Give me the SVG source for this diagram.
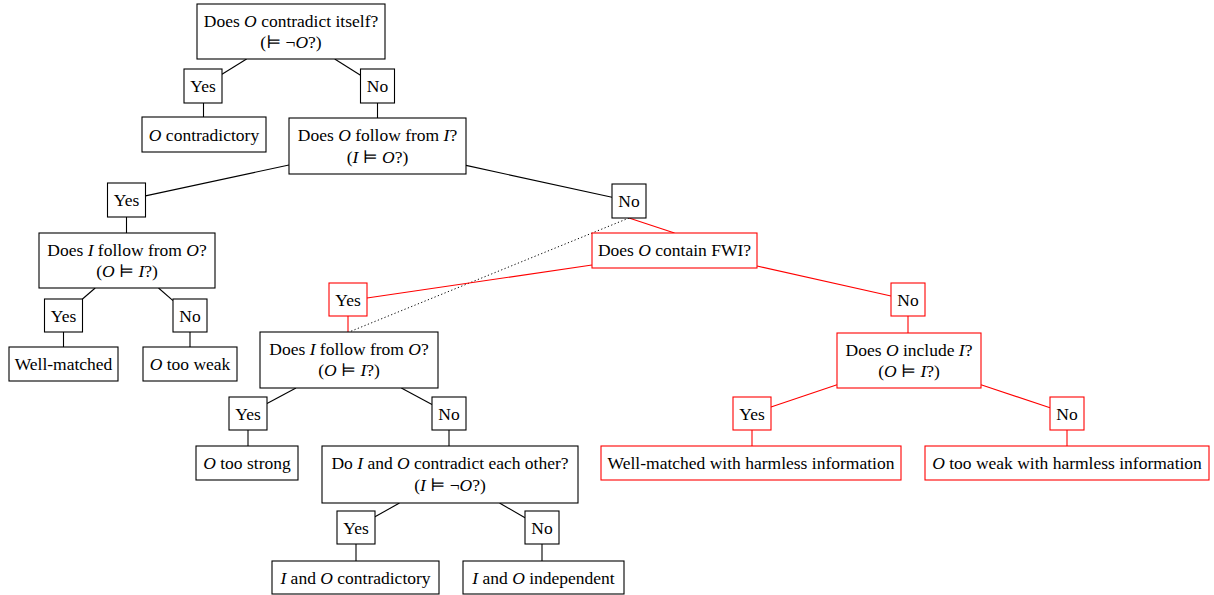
<svg xmlns="http://www.w3.org/2000/svg" width="1214" height="595" viewBox="0 0 1214 595">
<style>
text{font-family:"Liberation Serif","DejaVu Serif",serif;font-size:17.5px;fill:#000;text-anchor:middle}
.i{font-style:italic}
rect{fill:#fff;stroke:#000;stroke-width:1.1}
.r rect,rect.r{stroke:#ff0000}
line{stroke:#000;stroke-width:1.1}
line.r{stroke:#ff0000}
line.d{stroke-dasharray:1.2 2.4;stroke-width:1}
</style>
<rect x="0" y="0" width="1214" height="595" style="fill:#fff;stroke:none"/>
<g id="connectors">
<line x1="246.6" y1="59" x2="222" y2="74.2"/>
<line x1="334.7" y1="59" x2="360.5" y2="75.3"/>
<line x1="203.5" y1="103" x2="203.5" y2="117"/>
<line x1="377.5" y1="103" x2="377.5" y2="118"/>
<line x1="289" y1="165" x2="145.5" y2="195.9"/>
<line x1="466" y1="165.4" x2="612" y2="197.3"/>
<line x1="126.5" y1="217" x2="126.5" y2="233"/>
<line x1="95.2" y1="288" x2="82.5" y2="299"/>
<line x1="158.5" y1="288" x2="173" y2="300.6"/>
<line x1="63.5" y1="332" x2="63.5" y2="347"/>
<line x1="190" y1="332" x2="190" y2="347"/>
<line class="r" x1="629" y1="218" x2="674.5" y2="233"/>
<line class="d" x1="629" y1="218" x2="349" y2="332"/>
<line class="r" x1="592" y1="265" x2="367" y2="298"/>
<line class="r" x1="757" y1="266" x2="891" y2="296"/>
<line class="r" x1="348" y1="316" x2="348" y2="332"/>
<line class="r" x1="908" y1="316" x2="908" y2="333"/>
<line x1="296" y1="388" x2="267" y2="403.4"/>
<line x1="401.3" y1="388" x2="432" y2="404.4"/>
<line x1="248" y1="430" x2="248" y2="446"/>
<line x1="449" y1="430" x2="449" y2="446"/>
<line x1="399.5" y1="503" x2="375" y2="516.8"/>
<line x1="499.5" y1="503" x2="525" y2="517.7"/>
<line x1="356" y1="544" x2="356" y2="561"/>
<line x1="542" y1="544" x2="542" y2="561"/>
<line class="r" x1="837" y1="384.8" x2="771" y2="407.1"/>
<line class="r" x1="981" y1="384.7" x2="1050" y2="407.8"/>
<line class="r" x1="752" y1="430" x2="752" y2="446"/>
<line class="r" x1="1067" y1="430" x2="1067" y2="446"/>
</g>
<g id="q-contradict-itself">
<rect x="197" y="4" width="188" height="55"/>
<text x="291" y="27">Does <tspan class="i">O</tspan> contradict itself?</text>
<text x="291" y="48">(⊨ ¬<tspan class="i">O</tspan>?)</text>
</g>
<g id="yes1"><rect x="184" y="69" width="38" height="34"/><text x="203" y="92">Yes</text></g>
<g id="no1"><rect x="360.5" y="69" width="34" height="34"/><text x="377.5" y="92">No</text></g>
<g id="o-contradictory"><rect x="142" y="117" width="124" height="35"/><text x="204" y="140.5"><tspan class="i">O</tspan> contradictory</text></g>
<g id="q-follow-o-from-i">
<rect x="289" y="118" width="177" height="56"/>
<text x="377.5" y="141">Does <tspan class="i">O</tspan> follow from <tspan class="i">I</tspan>?</text>
<text x="377.5" y="162.5">(<tspan class="i">I</tspan> ⊨ <tspan class="i">O</tspan>?)</text>
</g>
<g id="yes2"><rect x="107.5" y="183" width="38" height="34"/><text x="126.5" y="206">Yes</text></g>
<g id="no2"><rect x="612" y="184" width="34" height="34"/><text x="629" y="207">No</text></g>
<g id="q-follow-i-from-o-left">
<rect x="39" y="233" width="176" height="55"/>
<text x="127" y="255.5">Does <tspan class="i">I</tspan> follow from <tspan class="i">O</tspan>?</text>
<text x="127" y="276.5">(<tspan class="i">O</tspan> ⊨ <tspan class="i">I</tspan>?)</text>
</g>
<g id="yes3"><rect x="44.5" y="299" width="38" height="33"/><text x="63.5" y="321.5">Yes</text></g>
<g id="no3"><rect x="173" y="299" width="34" height="33"/><text x="190" y="321.5">No</text></g>
<g id="well-matched"><rect x="9" y="347" width="109" height="34"/><text x="63.5" y="370">Well-matched</text></g>
<g id="o-too-weak"><rect x="143" y="347" width="94" height="34"/><text x="190" y="370"><tspan class="i">O</tspan> too weak</text></g>
<g id="q-fwi" class="r"><rect x="592" y="233" width="165" height="35"/><text x="674.5" y="256">Does <tspan class="i">O</tspan> contain FWI?</text></g>
<g id="yes-fwi" class="r"><rect x="329" y="283" width="38" height="33"/><text x="348" y="305.5">Yes</text></g>
<g id="no-fwi" class="r"><rect x="891" y="283" width="34" height="33"/><text x="908" y="305.5">No</text></g>
<g id="q-follow-i-from-o-mid">
<rect x="260" y="332" width="178" height="56"/>
<text x="349" y="354.5">Does <tspan class="i">I</tspan> follow from <tspan class="i">O</tspan>?</text>
<text x="349" y="376">(<tspan class="i">O</tspan> ⊨ <tspan class="i">I</tspan>?)</text>
</g>
<g id="q-include" class="r">
<rect x="837" y="333" width="144" height="55"/>
<text x="909" y="355.5">Does <tspan class="i">O</tspan> include <tspan class="i">I</tspan>?</text>
<text x="909" y="376.5">(<tspan class="i">O</tspan> ⊨ <tspan class="i">I</tspan>?)</text>
</g>
<g id="yes-mid"><rect x="229" y="397" width="38" height="33"/><text x="248" y="419.5">Yes</text></g>
<g id="no-mid"><rect x="432" y="397" width="34" height="33"/><text x="449" y="419.5">No</text></g>
<g id="yes-inc" class="r"><rect x="733" y="397" width="38" height="33"/><text x="752" y="419.5">Yes</text></g>
<g id="no-inc" class="r"><rect x="1050" y="397" width="34" height="33"/><text x="1067" y="419.5">No</text></g>
<g id="o-too-strong"><rect x="196" y="446" width="102" height="34"/><text x="247" y="469"><tspan class="i">O</tspan> too strong</text></g>
<g id="q-contradict-each-other">
<rect x="322" y="446" width="256" height="57"/>
<text x="450" y="469">Do <tspan class="i">I</tspan> and <tspan class="i">O</tspan> contradict each other?</text>
<text x="450" y="490.5">(<tspan class="i">I</tspan> ⊨ ¬<tspan class="i">O</tspan>?)</text>
</g>
<g id="well-matched-harmless" class="r"><rect x="601" y="446" width="300" height="34"/><text x="751" y="469">Well-matched with harmless information</text></g>
<g id="o-too-weak-harmless" class="r"><rect x="925" y="446" width="284" height="34"/><text x="1067" y="469"><tspan class="i">O</tspan> too weak with harmless information</text></g>
<g id="yes-c"><rect x="337" y="511" width="38" height="33"/><text x="356" y="533.5">Yes</text></g>
<g id="no-c"><rect x="525" y="511" width="34" height="33"/><text x="542" y="533.5">No</text></g>
<g id="i-o-contradictory"><rect x="272" y="561" width="167" height="33"/><text x="355.5" y="583.5"><tspan class="i">I</tspan> and <tspan class="i">O</tspan> contradictory</text></g>
<g id="i-o-independent"><rect x="463" y="561" width="161" height="33"/><text x="543.5" y="583.5"><tspan class="i">I</tspan> and <tspan class="i">O</tspan> independent</text></g>
</svg>
